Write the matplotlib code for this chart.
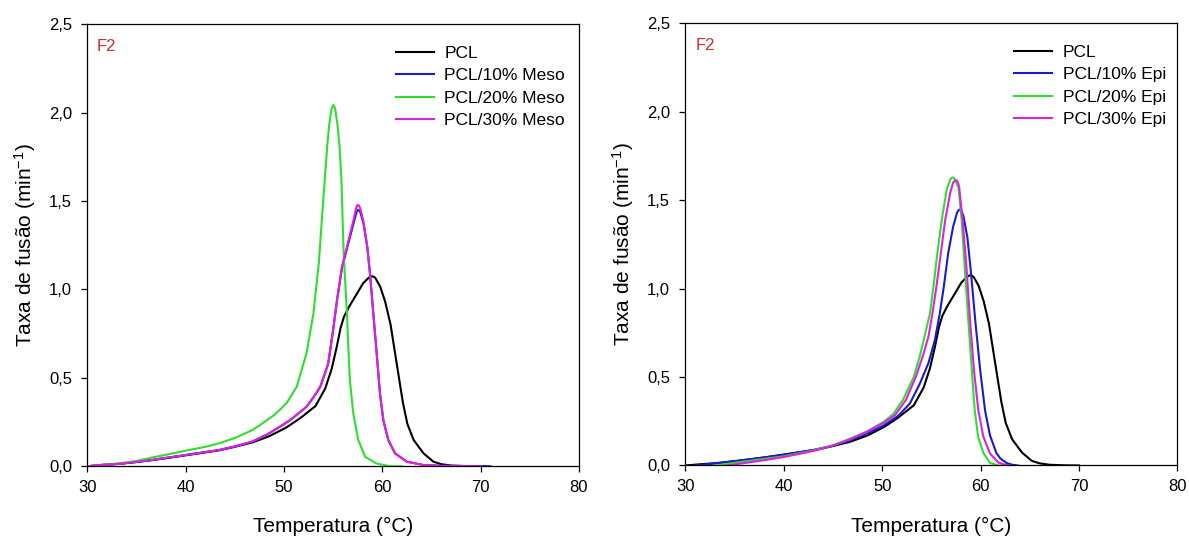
import matplotlib
matplotlib.use("Agg")
import matplotlib.pyplot as plt
from matplotlib.ticker import FuncFormatter

plt.rcParams["font.family"] = ["Liberation Sans", "DejaVu Sans"]
plt.rcParams["mathtext.fontset"] = "custom"
plt.rcParams["mathtext.rm"] = "Liberation Sans"
plt.rcParams["mathtext.it"] = "Liberation Sans"
plt.rcParams["mathtext.default"] = "regular"

# PCL (same sample on both panels)
pcl_t = [30, 31.5, 33.3, 35, 36.6, 38.3, 40, 41.7, 43.4, 45, 46.8, 48.5, 50.2, 51.6,
         53.2, 54.2, 54.85, 55.35, 55.75, 56.1, 56.6, 57.3, 58.05, 58.5, 58.75, 58.92, 59.1, 59.3,
         59.8, 60.3, 60.85, 61.3, 61.7, 62.1, 62.55, 63.2, 64.2, 65.2, 66.0, 67.0, 68.5, 70.0]
pcl_v = [0, 0.007, 0.014, 0.024, 0.035, 0.048, 0.062, 0.076, 0.09, 0.11, 0.135, 0.17, 0.218, 0.27,
         0.34, 0.44, 0.55, 0.67, 0.78, 0.845, 0.90, 0.965, 1.035, 1.06, 1.072, 1.075, 1.073, 1.065,
         1.015, 0.93, 0.80, 0.64, 0.50, 0.36, 0.24, 0.148, 0.073, 0.026, 0.012, 0.004, 0.001, 0.0]

# left panel: Meso
meso10_t = [30, 31.5, 33.3, 35, 36.6, 38.3, 40, 41.7, 43.4, 45, 46.8, 48.3, 49.6, 50.6, 51.5,
            52.3, 53.0, 53.7, 54.5, 55.0, 55.4, 55.9, 56.4, 57.06, 57.3, 57.4, 57.5, 57.62, 57.75, 58.07,
            58.48, 58.75, 59.09, 59.43, 59.77, 60.11, 60.62, 61.3, 62.5, 64.2, 66.0, 68.0, 70.0, 71.0]
meso10_v = [0, 0.008, 0.014, 0.025, 0.036, 0.05, 0.064, 0.078, 0.092, 0.112, 0.14, 0.18, 0.224, 0.26, 0.3,
            0.337, 0.39, 0.45, 0.58, 0.77, 0.94, 1.12, 1.23, 1.37, 1.42, 1.44, 1.45, 1.448, 1.44, 1.38,
            1.24, 1.09, 0.865, 0.64, 0.41, 0.26, 0.148, 0.073, 0.026, 0.007, 0.003, 0.002, 0.001, 0.0]

meso20_t = [30, 31, 33.3, 35, 36.6, 38, 40, 42, 43.4, 45, 46.8, 48, 49, 49.6, 50.3, 51.3,
            52.3, 53.0, 53.55, 53.9, 54.15, 54.4, 54.6, 54.85, 55.03, 55.2, 55.45, 55.65, 55.85, 56.05,
            56.4, 56.7, 57.05, 57.55, 58.25, 59.4, 60.8, 62.0]
meso20_v = [0, 0.005, 0.017, 0.03, 0.05, 0.065, 0.088, 0.11, 0.13, 0.16, 0.205, 0.25, 0.29, 0.32, 0.36, 0.45,
            0.64, 0.865, 1.15, 1.43, 1.62, 1.81, 1.93, 2.025, 2.044, 2.025, 1.93, 1.81, 1.62, 1.24,
            0.865, 0.49, 0.30, 0.15, 0.054, 0.016, 0.0, 0.0]

meso30_t = [30, 31.5, 33.3, 35, 36.6, 38.3, 40, 41.7, 43.4, 45, 46.8, 48.3, 49.6, 50.6, 51.5,
            52.3, 53.0, 53.7, 54.5, 55.0, 55.4, 55.9, 56.4, 57.06, 57.3, 57.4, 57.5, 57.62, 57.75, 58.07,
            58.48, 58.75, 59.09, 59.43, 59.77, 60.11, 60.62, 61.3, 62.5, 64.2, 66.0, 68.0, 70.0]
meso30_v = [0, 0.008, 0.014, 0.025, 0.036, 0.05, 0.064, 0.078, 0.092, 0.112, 0.14, 0.18, 0.224, 0.26, 0.3,
            0.337, 0.39, 0.45, 0.58, 0.77, 0.94, 1.13, 1.24, 1.39, 1.45, 1.47, 1.478, 1.475, 1.46, 1.39,
            1.24, 1.09, 0.865, 0.64, 0.41, 0.26, 0.148, 0.073, 0.026, 0.007, 0.002, 0.001, 0.0]

# right panel: Epi
epi10_t = [31, 33, 35, 38, 40, 43, 45, 46.7, 48.4, 50.1, 51.6, 52.8, 53.8, 54.7, 55.35, 55.85,
           56.25, 56.7, 57.2, 57.6, 57.78, 57.9, 58.05, 58.25, 58.65, 59.0, 59.45, 59.95, 60.45, 60.95, 61.6,
           62.0, 62.6, 63.2, 63.8]
epi10_v = [0, 0.012, 0.025, 0.045, 0.06, 0.088, 0.112, 0.142, 0.18, 0.225, 0.28, 0.35, 0.46, 0.58, 0.71, 0.86,
           1.01, 1.2, 1.35, 1.43, 1.445, 1.448, 1.44, 1.41, 1.29, 1.10, 0.82, 0.54, 0.31, 0.17, 0.07,
           0.04, 0.015, 0.004, 0.0]

epi20_t = [33.1, 35, 38, 40, 43, 45, 46.7, 48.4, 50.1, 51.1, 52.1, 53.2, 53.8, 54.3, 54.85, 55.2,
           55.6, 56.05, 56.55, 56.9, 57.02, 57.15, 57.3, 57.45, 57.75, 58.07, 58.4, 58.75, 59.1, 59.4, 59.75,
           60.3, 60.95, 61.8]
epi20_v = [0, 0.015, 0.037, 0.052, 0.085, 0.115, 0.15, 0.19, 0.245, 0.29, 0.37, 0.50, 0.615, 0.73, 0.86, 1.01,
           1.2, 1.39, 1.56, 1.615, 1.625, 1.629, 1.625, 1.61, 1.57, 1.387, 1.10, 0.82, 0.54, 0.31, 0.16,
           0.068, 0.015, 0.0]

epi30_t = [34.2, 35, 38, 40, 43, 45, 46.7, 48.4, 50.1, 51.3, 52.4, 53.4, 54.1, 54.7, 55.1, 55.5,
           55.95, 56.4, 56.9, 57.2, 57.35, 57.49, 57.62, 57.8, 58.17, 58.58, 58.92, 59.32, 59.76, 60.27, 60.95,
           61.8, 62.4, 63.0]
epi30_v = [0, 0.006, 0.03, 0.048, 0.082, 0.113, 0.148, 0.19, 0.24, 0.285, 0.37, 0.50, 0.615, 0.73, 0.86, 1.01,
           1.2, 1.39, 1.54, 1.60, 1.61, 1.613, 1.608, 1.58, 1.387, 1.104, 0.822, 0.539, 0.313, 0.163, 0.068,
           0.016, 0.005, 0.0]

colors = ["black", "#1a1ad0", "#2ee02e", "#e020e0"]
meso_labels = ["PCL", "PCL/10% Meso", "PCL/20% Meso", "PCL/30% Meso"]
epi_labels = ["PCL", "PCL/10% Epi", "PCL/20% Epi", "PCL/30% Epi"]
x_ticks = [30, 40, 50, 60, 70, 80]
y_ticks = [0.0, 0.5, 1.0, 1.5, 2.0, 2.5]

panels = [
    ([(pcl_t, pcl_v), (meso10_t, meso10_v), (meso20_t, meso20_v), (meso30_t, meso30_v)],
     meso_labels, [0.0734, 0.1365, 0.4135, 0.8185], 0.9715),
    ([(pcl_t, pcl_v), (epi10_t, epi10_v), (epi20_t, epi20_v), (epi30_t, epi30_v)],
     epi_labels, [0.5765, 0.138, 0.4138, 0.8188], 0.9766),
]

fig = plt.figure(figsize=(11.89, 5.4), dpi=100)

for series, labels, rect, leg_x in panels:
    ax = fig.add_axes(rect)
    for (t, v), lab, c in zip(series, labels, colors):
        ax.plot(t, v, color=c, lw=1.5, label=lab)
    ax.set_xlim(30, 80)
    ax.set_ylim(0, 2.5)
    ax.set_xticks(x_ticks)
    ax.set_yticks(y_ticks)
    ax.yaxis.set_major_formatter(FuncFormatter(lambda y, p: f"{y:.1f}".replace(".", ",")))
    ax.tick_params(direction="out", length=4, width=0.9, labelsize=12)
    ax.tick_params(axis="x", pad=6)
    ax.tick_params(axis="y", pad=7)
    for s in ax.spines.values():
        s.set_linewidth(0.9)
    ax.set_xlabel("Temperatura (°C)", fontsize=15, labelpad=16)
    ax.set_ylabel("Taxa de fusão (min$^{-1}$)", fontsize=15, labelpad=8)
    ax.text(0.02, 0.95, "F2", color="#d42a2a", fontsize=12, transform=ax.transAxes,
            va="center", ha="left")
    ax.legend(loc="upper right", bbox_to_anchor=(leg_x, 0.951), frameon=False,
              fontsize=12.5, handlelength=2.2, handletextpad=0.6, labelspacing=0.41,
              borderpad=0, borderaxespad=0)

fig.savefig("out.png", dpi=100)
